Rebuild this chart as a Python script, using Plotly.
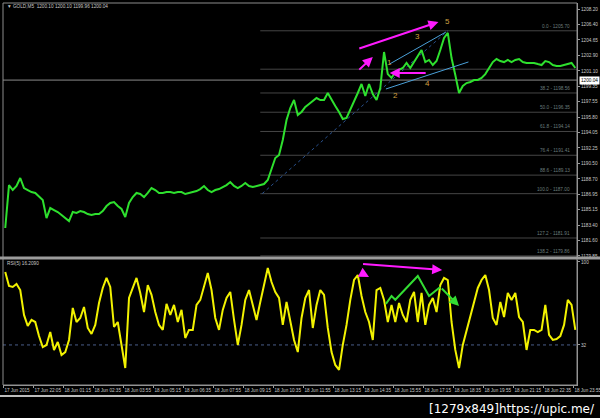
import plotly.graph_objects as go

# ---------------- data ----------------
# 10-minute sampled closes of GOLD M5 (bar index = M5 bar number)
close = [1183.06, 1187.99, 1187.42, 1187.88, 1188.80, 1187.65, 1187.42, 1187.19, 1187.08, 1186.73,
         1186.27, 1184.20, 1185.35, 1185.12, 1184.89, 1184.55, 1184.20, 1183.86, 1184.89, 1184.78,
         1185.01, 1184.89, 1184.66, 1184.55, 1184.66, 1184.66, 1185.01, 1185.58, 1185.93, 1186.04,
         1185.58, 1185.24, 1184.32, 1185.93, 1186.61, 1187.08, 1186.96, 1186.61, 1187.08, 1187.65,
         1187.42, 1187.08, 1187.08, 1187.19, 1187.19, 1187.08, 1187.19, 1187.19, 1186.96, 1187.08,
         1187.19, 1187.30, 1187.53, 1187.88, 1187.42, 1187.19, 1187.42, 1187.53, 1187.76, 1187.99,
         1188.34, 1187.88, 1187.65, 1187.88, 1188.22, 1187.88, 1187.76, 1187.88, 1187.99, 1188.11,
         1188.57, 1189.72, 1191.09, 1191.44, 1193.16, 1195.46, 1196.83, 1197.75, 1196.03, 1196.38,
         1196.95, 1197.29, 1197.64, 1197.98, 1197.75, 1197.75, 1198.56, 1197.75, 1197.07, 1196.38,
         1195.57, 1195.69, 1196.61, 1197.52, 1198.56, 1199.59, 1198.21, 1199.59, 1198.44, 1197.75,
         1199.13, 1203.26, 1200.73, 1200.28, 1200.97, 1201.20, 1201.43, 1202.00, 1201.43, 1202.11,
         1202.80, 1203.49, 1202.11, 1202.35, 1201.77, 1202.23, 1203.49, 1204.87, 1205.45, 1202.57,
         1200.62, 1198.56, 1199.36, 1199.70, 1199.82, 1200.05, 1200.05, 1200.28, 1200.73, 1201.43,
         1202.11, 1202.46, 1202.23, 1202.11, 1202.35, 1202.11, 1202.35, 1202.46, 1202.11, 1202.00,
         1202.00, 1202.00, 1201.88, 1201.77, 1202.23, 1202.11, 1201.77, 1201.65, 1201.65, 1201.77,
         1201.88, 1202.00, 1201.43]

rsi = [91.8, 80.3, 79.5, 82.0, 77.0, 56.6, 47.5, 52.5, 50.8, 39.3,
       30.3, 32.0, 42.6, 27.9, 34.4, 23.8, 26.2, 36.1, 62.3, 50.8,
       54.1, 63.1, 45.9, 41.0, 48.4, 66.4, 78.7, 86.9, 79.5, 46.7,
       50.8, 32.0, 13.1, 70.5, 79.5, 86.9, 74.6, 59.0, 81.1, 73.0,
       59.0, 48.4, 44.3, 65.6, 56.6, 64.8, 50.8, 60.7, 37.7, 44.3,
       44.3, 64.8, 68.9, 81.1, 91.0, 77.0, 54.1, 44.3, 60.7, 70.5,
       75.4, 52.5, 32.0, 48.4, 68.9, 77.0, 64.8, 52.5, 67.2, 81.1,
       95.1, 83.6, 75.4, 70.5, 48.4, 67.2, 52.5, 36.1, 26.2, 54.1,
       70.5, 77.0, 45.9, 64.8, 77.0, 73.0, 45.9, 26.2, 15.6, 11.5,
       32.0, 48.4, 68.9, 85.2, 89.3, 72.1, 59.0, 50.8, 36.1, 77.0,
       78.7, 68.9, 50.8, 64.8, 50.8, 66.4, 56.6, 50.8, 68.9, 75.4,
       50.8, 74.6, 48.4, 64.8, 70.5, 59.0, 81.1, 86.9, 85.2, 50.8,
       27.9, 13.1, 32.0, 44.3, 56.6, 68.9, 78.7, 85.2, 89.3, 77.0,
       54.1, 48.4, 67.2, 54.9, 74.6, 68.9, 74.6, 54.9, 50.8, 27.9,
       44.3, 44.3, 42.6, 44.3, 64.8, 40.2, 36.1, 36.9, 39.3, 48.4,
       68.9, 64.8, 44.3]

bar_idx = list(range(0, 2 * len(close), 2))

time_labels = ["17 Jun 2015", "17 Jun 22:05", "18 Jun 01:15", "18 Jun 02:35", "18 Jun 03:55",
               "18 Jun 05:15", "18 Jun 06:35", "18 Jun 07:55", "18 Jun 09:15", "18 Jun 10:35",
               "18 Jun 11:55", "18 Jun 13:15", "18 Jun 14:35", "18 Jun 15:55", "18 Jun 17:15",
               "18 Jun 18:35", "18 Jun 19:55", "18 Jun 21:15", "18 Jun 22:35", "18 Jun 23:55"]
time_ticks = [16 * n - 1 for n in range(len(time_labels))]

price_ticks = [1208.20, 1206.40, 1204.65, 1202.90, 1201.10, 1199.35, 1197.55, 1195.80, 1194.05,
               1192.25, 1190.50, 1188.70, 1186.95, 1185.15, 1183.40, 1181.60, 1179.85]

fib_names = ["0.0", "23.6", "38.2", "50.0", "61.8", "76.4", "88.6", "100.0", "127.2", "138.2"]
fib_prices = [1205.70, 1201.29, 1198.56, 1196.35, 1194.14, 1191.41, 1189.13, 1187.00, 1181.91, 1179.86]
fib_start_bar = 136
fib_show_label = [True, False, True, True, True, True, True, True, True, True]

bid_price = 1200.04
rsi_level = 32

# drawn objects (bar index, value)
wave_labels = ["1", "2", "3", "4", "5"]
wave_bars = [205, 208, 220, 225, 236]
wave_prices = [1202.10, 1198.30, 1205.00, 1199.60, 1206.75]

channel_upper = [(205, 1201.89), (235, 1205.56)]
channel_lower = [(203, 1199.02), (247, 1202.12)]
fib_trend = [(137, 1187.00), (236, 1205.70)]

mag_top_long = [(188, 1203.61), (231, 1206.71)]
mag_top_short = [(188, 1201.08), (196, 1202.69)]
mag_top_horiz = [(225, 1200.85), (205, 1200.85)]

mag_rsi_long = [(190, 98.4), (233, 93.4)]
mag_rsi_short = [(190, 91.0), (194, 87.7)]
green_zig_bars = [203, 206, 208, 220, 226, 232]
green_zig_vals = [65.6, 72.1, 69.0, 88.5, 72.1, 79.5]
green_tail = [(232, 79.5), (242, 63.9)]

# ---------------- figure ----------------
XR = [-1.2, 304.9]
TOP_DOM = [0.3351, 1.0]
BOT_DOM = [0.0, 0.3272]
small = dict(family="Liberation Sans, Arial", size=4.7, color="#c8c8c8")
xfont = dict(family="Liberation Sans Narrow, Liberation Sans, Arial", size=4.6, color="#c8c8c8")


def ppx(px):
    return (px - 3) / 574.0


def ppy(py):
    return (385 - py) / 382.0


fig = go.Figure()

fig.add_trace(go.Scatter(x=bar_idx, y=close, mode="lines", xaxis="x2", yaxis="y",
                         line=dict(color="#2ee02e", width=2), hoverinfo="skip", showlegend=False))
fig.add_trace(go.Scatter(x=bar_idx, y=rsi, mode="lines", xaxis="x", yaxis="y2",
                         line=dict(color="#f2f200", width=2), hoverinfo="skip", showlegend=False))
fig.add_trace(go.Scatter(x=green_zig_bars, y=green_zig_vals, mode="lines", xaxis="x", yaxis="y2",
                         line=dict(color="#33dd33", width=2), hoverinfo="skip", showlegend=False))

shapes = []
annotations = []

# fib levels
for name, lvl, show in zip(fib_names, fib_prices, fib_show_label):
    shapes.append(dict(type="line", xref="x2", yref="y", x0=fib_start_bar, x1=XR[1], y0=lvl, y1=lvl,
                       line=dict(color="#454545", width=1), layer="below"))
    if show:
        annotations.append(dict(xref="x2", yref="y", x=302, y=lvl, xanchor="right", yanchor="bottom",
                                text=f"{name} - {lvl:.2f}", showarrow=False,
                                font=dict(family="Liberation Sans, Arial", size=4.7, color="#6a7c7c")))

# fib trend (dotted)
shapes.append(dict(type="line", xref="x2", yref="y", x0=fib_trend[0][0], y0=fib_trend[0][1],
                   x1=fib_trend[1][0], y1=fib_trend[1][1], line=dict(color="#28508c", width=1, dash="dot"),
                   layer="below"))

# bid line
shapes.append(dict(type="line", xref="paper", yref="y", x0=0, x1=1, y0=bid_price, y1=bid_price,
                   line=dict(color="#8a8a8a", width=1), layer="below"))
annotations.append(dict(xref="paper", yref="y", x=1.003, y=bid_price, xanchor="left", yanchor="middle",
                        text=f"{bid_price:.2f}", showarrow=False, bgcolor="#ffffff",
                        font=dict(family="Liberation Sans, Arial", size=4.7, color="#000000"), borderpad=1))

# rsi level (dotted)
shapes.append(dict(type="line", xref="paper", yref="y2", x0=0, x1=1, y0=rsi_level, y1=rsi_level,
                   line=dict(color="#4a5e8a", width=1, dash="dot"), layer="below"))

# channel lines
for seg in (channel_upper, channel_lower):
    shapes.append(dict(type="line", xref="x2", yref="y", x0=seg[0][0], y0=seg[0][1], x1=seg[1][0], y1=seg[1][1],
                       line=dict(color="#4aa0d8", width=1)))

# wave labels
for t, b, p in zip(wave_labels, wave_bars, wave_prices):
    annotations.append(dict(xref="x2", yref="y", x=b, y=p, text=t, showarrow=False,
                            font=dict(family="Liberation Sans, Arial", size=8, color="#d0a040")))


def arrow(seg, xref, yref, color, width=2, head=2):
    (x0, y0), (x1, y1) = seg
    return dict(xref=xref, yref=yref, axref=xref, ayref=yref, x=x1, y=y1, ax=x0, ay=y0, text="",
                showarrow=True, arrowhead=head, arrowsize=1, arrowwidth=width, arrowcolor=color)


for seg in (mag_top_long, mag_top_short, mag_top_horiz):
    annotations.append(arrow(seg, "x2", "y", "#ff1aff"))
for seg in (mag_rsi_long, mag_rsi_short):
    annotations.append(arrow(seg, "x", "y2", "#ff1aff"))
annotations.append(arrow(green_tail, "x", "y2", "#33dd33"))

# frame and separator
shapes.append(dict(type="rect", xref="paper", yref="paper", x0=0, x1=1, y0=0, y1=1,
                   line=dict(color="#8c8c8c", width=1)))
shapes.append(dict(type="rect", xref="paper", yref="paper", x0=ppx(0), x1=ppx(600), y0=ppy(259.5), y1=ppy(256.5),
                   fillcolor="#9c9c9c", line=dict(width=0)))
shapes.append(dict(type="rect", xref="paper", yref="paper", x0=ppx(0), x1=ppx(600), y0=ppy(397), y1=ppy(395),
                   fillcolor="#bdbdbd", line=dict(width=0)))

# header and indicator labels
annotations.append(dict(xref="paper", yref="paper", x=ppx(5), y=ppy(6.5), xanchor="left", yanchor="middle",
                        text="▼ GOLD,M5  1200.10 1200.10 1199.96 1200.04", showarrow=False, font=small))
annotations.append(dict(xref="paper", yref="paper", x=ppx(5), y=ppy(263.5), xanchor="left", yanchor="middle",
                        text="RSI(5) 16.2090", showarrow=False, font=small))
annotations.append(dict(xref="paper", yref="paper", x=ppx(597), y=ppy(409), xanchor="right", yanchor="middle",
                        text="[1279x849]https://upic.me/", showarrow=False,
                        font=dict(family="DejaVu Sans, sans-serif", size=12, color="#ffffff")))

axis_common = dict(showgrid=False, zeroline=False, showline=True, linecolor="#9a9a9a", linewidth=1,
                   ticks="outside", ticklen=2, tickcolor="#9a9a9a", automargin=False)

fig.update_layout(
    width=600, height=418,
    margin=dict(l=3, r=23, t=3, b=33, autoexpand=False),
    paper_bgcolor="#000000", plot_bgcolor="#000000",
    showlegend=False,
    xaxis=dict(domain=[0, 1], anchor="y2", range=XR, tickvals=time_ticks, ticktext=time_labels,
               ticklabelposition="outside right", tickangle=0, ticklabeloverflow="allow",
               tickfont=xfont, **axis_common),
    xaxis2=dict(domain=[0, 1], anchor="y", matches="x", range=XR, showticklabels=False,
                showgrid=False, zeroline=False, showline=False),
    yaxis=dict(domain=TOP_DOM, anchor="x2", side="right", range=[1179.73, 1208.89], tickfont=small,
               tickvals=price_ticks, ticktext=[f"{v:.2f}" for v in price_ticks], **axis_common),
    yaxis2=dict(domain=BOT_DOM, anchor="x", side="right", range=[-0.82, 101.6], tickfont=small,
                tickvals=[100, rsi_level], ticktext=["100", str(rsi_level)], **axis_common),
    shapes=shapes,
    annotations=annotations,
)

fig.write_html("out.html", config={"displayModeBar": False},
               post_script="document.body.style.margin='0px';document.body.style.overflow='hidden';")
